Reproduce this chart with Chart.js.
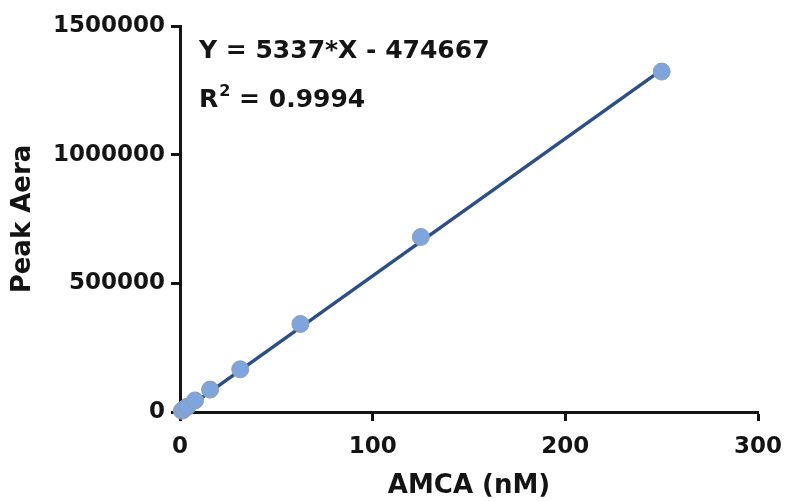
<!DOCTYPE html>
<html>
<head>
<meta charset="utf-8">
<script src="https://cdn.jsdelivr.net/npm/chart.js@4/dist/chart.umd.min.js"></script>
<style>
  html, body { margin: 0; padding: 0; background: #ffffff; }
  #wrap { width: 785px; height: 501px; }
</style>
</head>
<body>
<div id="wrap"><canvas id="curva"></canvas></div>
<script>
// Datos
const concentraciones = [0.98, 1.95, 3.9, 7.8, 15.6, 31.25, 62.5, 125, 250];
const areas = [5000, 10500, 21000, 45000, 87000, 166000, 342000, 680000, 1323000];
// Extremos de la recta de ajuste
const ajusteX = [0.98, 250];
const ajusteY = [485, 1329500];
const xTicks = [0, 100, 200, 300];
const yTicks = [0, 500000, 1000000, 1500000];
const ecuacion = "Y = 5337*X - 474667";
const r2Valor = " = 0.9994";

const fuente = "'DejaVu Sans', sans-serif";
const negro = "#141414";

// Texto de la ecuacion arriba a la izquierda
const textoEcuacion = {
  id: "textoEcuacion",
  afterDraw(chart) {
    const ctx = chart.ctx;
    ctx.save();
    ctx.fillStyle = negro;
    ctx.textBaseline = "alphabetic";
    ctx.textAlign = "left";
    ctx.font = "bold 25px " + fuente;
    ctx.fillText(ecuacion, 199, 58);
    ctx.fillText("R", 199, 107);
    const wR = ctx.measureText("R").width;
    ctx.font = "bold 16px " + fuente;
    ctx.fillText("2", 199 + wR + 1, 96);
    const w2 = ctx.measureText("2").width;
    ctx.font = "bold 25px " + fuente;
    ctx.fillText(r2Valor, 199 + wR + w2 + 1, 107);
    ctx.restore();
  },
};

const ctx = document.getElementById("curva").getContext("2d");
new Chart(ctx, {
  type: "scatter",
  data: {
    datasets: [
      {
        label: "Ajuste",
        type: "line",
        data: ajusteX.map((x, i) => ({ x: x, y: ajusteY[i] })),
        borderColor: "#2c4f8c",
        borderWidth: 3.5,
        pointRadius: 0,
        fill: false,
        clip: false,
        order: 2,
      },
      {
        label: "AMCA",
        data: concentraciones.map((x, i) => ({ x: x, y: areas[i] })),
        backgroundColor: "#7ea5de",
        borderColor: "#8f9db3",
        borderWidth: 1,
        pointRadius: 8.5,
        clip: false,
        order: 1,
      },
    ],
  },
  options: {
    responsive: true,
    maintainAspectRatio: false,
    animation: false,
    layout: {
      padding: { left: 0, right: 27, top: 26, bottom: 0 },
    },
    scales: {
      x: {
        type: "linear",
        min: 0,
        max: 300,
        afterBuildTicks: (s) => { s.ticks = xTicks.map((v) => ({ value: v })); },
        afterFit: (s) => {
          s.height = 89;
          s.paddingLeft = 0;
          s.paddingRight = 0;
        },
        border: { display: true, color: negro, width: 3 },
        grid: { drawOnChartArea: false, drawTicks: true, tickLength: 9, tickWidth: 3, color: negro },
        ticks: {
          color: negro,
          padding: 12,
          font: { family: fuente, weight: "bold", size: 23 },
          callback: (value) => String(value),
        },
        title: {
          display: true,
          text: "AMCA (nM)",
          color: negro,
          padding: { top: 0, bottom: -1 },
          font: { family: fuente, weight: "bold", size: 26 },
        },
      },
      y: {
        type: "linear",
        min: 0,
        max: 1500000,
        afterBuildTicks: (s) => { s.ticks = yTicks.map((v) => ({ value: v })); },
        afterFit: (s) => {
          s.width = 180;
          s.paddingTop = 0;
          s.paddingBottom = 0;
        },
        border: { display: true, color: negro, width: 3 },
        grid: { drawOnChartArea: false, drawTicks: true, tickLength: 9, tickWidth: 3, color: negro },
        ticks: {
          color: negro,
          padding: 6,
          font: { family: fuente, weight: "bold", size: 23 },
          callback: (value) => String(value),
        },
        title: {
          display: true,
          text: "Peak Aera",
          color: negro,
          padding: { top: 8, bottom: 0 },
          font: { family: fuente, weight: "bold", size: 26 },
        },
      },
    },
    plugins: {
      legend: { display: false },
      tooltip: { enabled: false },
    },
  },
  plugins: [textoEcuacion],
});
</script>
</body>
</html>
